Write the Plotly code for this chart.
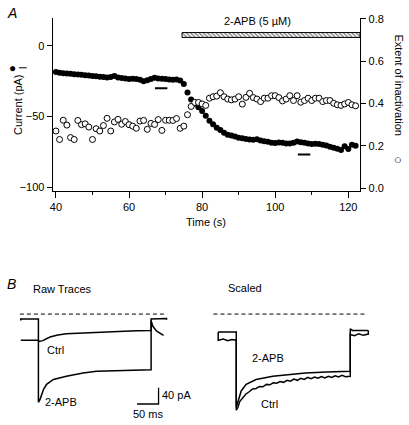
import plotly.graph_objects as go

W, H = 409, 425
FONT = "Liberation Sans, Arial, sans-serif"

# ---------------- Panel A data ----------------
time_s = list(range(40, 123))
current_pA = [-18.5, -19, -19.3, -19.5, -19.8, -20, -20.3, -20.5, -20.8, -21,
              -21.3, -21.5, -21.8, -22, -22.3, -22, -21.3, -22.3, -22.8, -23,
              -23.5, -23.3, -23.5, -24, -25, -24.3, -23.5, -22.5, -23, -23.3,
              -23.5, -23.8, -24, -23.8, -24.5, -27, -33, -38, -41, -43.5,
              -46, -49.5, -53, -55.5, -58, -59.5, -61.5, -62.8, -63.5, -64.2,
              -65, -65.3, -65.8, -66.2, -66.5, -66, -67, -67.5, -67.8, -68.5,
              -68.8, -68.3, -68.5, -69, -69, -68.5, -67.6, -68.2, -68.5, -69,
              -69.4, -69.2, -69.5, -70, -70.5, -71.3, -72, -72.8, -73.6, -71,
              -72.9, -70, -70.6]
inactivation = [0.270, 0.230, 0.321, 0.298, 0.239, 0.230, 0.320, 0.300, 0.304, 0.289,
                0.230, 0.281, 0.270, 0.296, 0.330, 0.270, 0.313, 0.325, 0.302, 0.315,
                0.300, 0.293, 0.283, 0.317, 0.320, 0.278, 0.306, 0.301, 0.324, 0.273,
                0.321, 0.321, 0.320, 0.329, 0.283, 0.293, 0.347, 0.386, 0.405, 0.405,
                0.398, 0.391, 0.425, 0.432, 0.435, 0.451, 0.432, 0.421, 0.417, 0.421,
                0.432, 0.397, 0.429, 0.448, 0.428, 0.421, 0.409, 0.425, 0.425, 0.437,
                0.437, 0.428, 0.412, 0.421, 0.437, 0.414, 0.437, 0.406, 0.414, 0.425,
                0.414, 0.425, 0.425, 0.409, 0.414, 0.414, 0.401, 0.394, 0.391, 0.398,
                0.405, 0.394, 0.389]
x_ticks = [40, 60, 80, 100, 120]
left_ticks = [-100, -50, 0]
right_ticks = [0.0, 0.2, 0.4, 0.6, 0.8]
drug_start, drug_end = 74.5, 123.2
drug_band = [0.712, 0.735]
drug_label = "2-APB (5 \u00b5M)"
marker1_t, marker1_I = [67.1, 70.5], -30
marker2_t, marker2_I = [106.2, 109.6], -76.8

# ---------------- Panel B data (ms, pA) ----------------
raw_apb_t = [-41, -41, 0, 0, 4, 12, 19, 35, 65, 104, 135, 190, 256, 262, 262, 298, 298]
raw_apb_I = [-16, -12, -12, -216, -208, -184, -172, -160, -152, -144, -140, -138, -136, -136, -12, -11, -14]
raw_ctrl_t = [-41, 0, 2, 10, 27, 45, 65, 100, 135, 170, 200, 230, 256, 262, 262, 266, 275, 291]
raw_ctrl_I = [-64, -64, -67, -65, -56, -51, -48, -46, -44, -43, -42, -41, -40, -40, -16, -30, -42, -52]

sc_apb_t = [-42, 0, 0, 4, 11.5, 23, 46, 85, 120, 161, 210, 265, 265, 270, 307]
sc_apb_I = [-44, -44, -228, -212, -188, -172, -160, -152, -148, -144, -142, -140, -36, -40, -40]
sc_ctrl_t = [-42, -42, -30, -20, -10, 0, 0, 4, 8, 15, 22, 30, 38, 46, 54, 62, 70, 78, 86,
             94, 102, 110, 118, 126, 134, 142, 150, 158, 166, 174, 182, 190, 198, 206,
             214, 222, 230, 238, 246, 254, 262, 265, 265, 275, 285, 295, 307, 307]
sc_ctrl_I = [-44, -64, -61, -65, -62, -64, -235, -228, -214, -204, -196, -190, -183, -182,
             -177, -178, -172, -173, -168, -169, -165, -167, -162, -164, -159, -162, -157,
             -160, -155, -158, -154, -157, -153, -156, -152, -155, -151, -154, -150, -153,
             -151, -152, -50, -53, -48, -52, -49, -40]

scale_t, scale_I = 50, 40   # scale bar: 50 ms, 40 pA

fig = go.Figure()

# Panel A
fig.add_trace(go.Scatter(x=time_s, y=current_pA, mode="markers",
                         marker=dict(color="black", size=6),
                         xaxis="x", yaxis="y", showlegend=False))
fig.add_trace(go.Scatter(x=time_s, y=inactivation, mode="markers",
                         marker=dict(color="white", size=6, line=dict(color="black", width=1)),
                         xaxis="x", yaxis="y2", showlegend=False))
fig.add_trace(go.Scatter(x=[drug_start, drug_end, drug_end, drug_start, drug_start],
                         y=[drug_band[0], drug_band[0], drug_band[1], drug_band[1], drug_band[0]],
                         mode="lines", fill="toself", line=dict(color="black", width=1),
                         fillcolor="white",
                         fillpattern=dict(shape="\\", size=3, solidity=0.45,
                                          fgcolor="black", bgcolor="white"),
                         xaxis="x", yaxis="y2", showlegend=False))
for mt, mi in [(marker1_t, marker1_I), (marker2_t, marker2_I)]:
    fig.add_trace(go.Scatter(x=mt, y=[mi, mi], mode="lines",
                             line=dict(color="black", width=2),
                             xaxis="x", yaxis="y", showlegend=False))

# Panel B raw
for tt, ii in [(raw_apb_t, raw_apb_I), (raw_ctrl_t, raw_ctrl_I)]:
    fig.add_trace(go.Scatter(x=tt, y=ii, mode="lines", line=dict(color="black", width=1.5),
                             xaxis="x2", yaxis="y3", showlegend=False))
fig.add_trace(go.Scatter(x=[-43, 298], y=[0, 0], mode="lines",
                         line=dict(color="black", width=1, dash="4px,3px"),
                         xaxis="x2", yaxis="y3", showlegend=False))
sb_x, sb_y = 279.3, -220
fig.add_trace(go.Scatter(x=[sb_x - scale_t, sb_x, sb_x], y=[sb_y, sb_y, sb_y + scale_I],
                         mode="lines", line=dict(color="black", width=1.3),
                         xaxis="x2", yaxis="y3", showlegend=False))

# Panel B scaled
for tt, ii in [(sc_apb_t, sc_apb_I), (sc_ctrl_t, sc_ctrl_I)]:
    fig.add_trace(go.Scatter(x=tt, y=ii, mode="lines", line=dict(color="black", width=1.5),
                             xaxis="x3", yaxis="y4", showlegend=False))
fig.add_trace(go.Scatter(x=[-53, 300], y=[0, 0], mode="lines",
                         line=dict(color="black", width=1, dash="4px,3px"),
                         xaxis="x3", yaxis="y4", showlegend=False))

def px(x):
    return x / W

def py(y):
    return 1 - y / H

axis_common = dict(showgrid=False, zeroline=False, showline=True, linecolor="black",
                   linewidth=1, ticks="outside", tickcolor="black", ticklen=5,
                   tickfont=dict(size=11, color="black", family=FONT))
hidden = dict(visible=False, showgrid=False, zeroline=False)

fig.update_layout(
    width=W, height=H, autosize=False,
    margin=dict(l=0, r=0, t=0, b=0),
    paper_bgcolor="white", plot_bgcolor="white",
    font=dict(family=FONT, size=11, color="black"),
    xaxis=dict(domain=[px(50), px(360)], range=[39.1, 123.3], tickvals=x_ticks,
               anchor="y", minor=dict(dtick=10, tick0=40, ticks="outside", ticklen=3,
                                      tickcolor="black"),
               ticklen=6, **{k: v for k, v in axis_common.items() if k != "ticklen"}),
    yaxis=dict(domain=[py(189.3), py(13)], range=[-102.5, 19.9], tickvals=left_ticks,
               anchor="x", **axis_common),
    yaxis2=dict(overlaying="y", side="right", range=[-0.012, 0.805], tickvals=right_ticks,
                tickformat=".1f", anchor="x", **axis_common),
    xaxis2=dict(domain=[px(14), px(170)], range=[-50, 310], anchor="y3", **hidden),
    yaxis3=dict(domain=[py(420), py(300)], range=[-252, 36], anchor="x2", **hidden),
    xaxis3=dict(domain=[px(205), px(375)], range=[-69.2, 323.1], anchor="y4", **hidden),
    yaxis4=dict(domain=[py(420), py(300)], range=[-252, 36], anchor="x3", **hidden),
)

ann = []
def A(**kw):
    base = dict(showarrow=False, font=dict(family=FONT, size=11, color="black"))
    base.update(kw)
    ann.append(base)

A(text="<i>A</i>", xref="paper", yref="paper", x=px(2), y=py(8), xanchor="left",
  yanchor="middle", font=dict(family=FONT, size=14, color="black"))
A(text="<i>B</i>", xref="paper", yref="paper", x=px(2), y=py(284), xanchor="left",
  yanchor="middle", font=dict(family=FONT, size=14, color="black"))
A(text="Time (s)", xref="paper", yref="paper", x=px(205), y=py(221), xanchor="center",
  yanchor="middle")
A(text="Current (pA)", xref="paper", yref="paper", x=px(15), y=py(101), textangle=-90,
  xanchor="center", yanchor="middle")
A(text="\u25cf", xref="paper", yref="paper", x=px(10), y=py(64), xanchor="center",
  yanchor="middle", font=dict(family=FONT, size=12, color="black"))
A(text="Extent of inactivation", xref="paper", yref="paper", x=px(398), y=py(82),
  textangle=90, xanchor="center", yanchor="middle")
A(text="\u25cb", xref="paper", yref="paper", x=px(398), y=py(157), xanchor="center",
  yanchor="middle", font=dict(family=FONT, size=13, color="black"))
A(text=drug_label, xref="x", yref="paper", x=95.2, y=py(16), xanchor="center",
  yanchor="middle")
A(text="Raw Traces", xref="paper", yref="paper", x=px(60), y=py(289), xanchor="center",
  yanchor="middle")
A(text="Scaled", xref="paper", yref="paper", x=px(244), y=py(288), xanchor="center",
  yanchor="middle")
A(text="Ctrl", xref="x2", yref="y3", x=40, y=-88, xanchor="center", yanchor="middle")
A(text="2-APB", xref="x2", yref="y3", x=52, y=-214, xanchor="center", yanchor="middle")
A(text="%d pA" % scale_I, xref="x2", yref="y3", x=282, y=-199, xanchor="left",
  yanchor="middle")
A(text="%d ms" % scale_t, xref="x2", yref="y3", x=254, y=-245, xanchor="center",
  yanchor="middle")
A(text="2-APB", xref="x3", yref="y4", x=73, y=-108, xanchor="center", yanchor="middle")
A(text="Ctrl", xref="x3", yref="y4", x=77, y=-220, xanchor="center", yanchor="middle")
fig.update_layout(annotations=ann)

fig.add_shape(type="line", xref="paper", yref="paper", x0=px(16), x1=px(24),
              y0=py(64), y1=py(64), line=dict(color="black", width=1))

fig.write_html("out.html", config={"displayModeBar": False},
               post_script="document.body.style.margin='0';document.body.style.overflow='hidden';")
